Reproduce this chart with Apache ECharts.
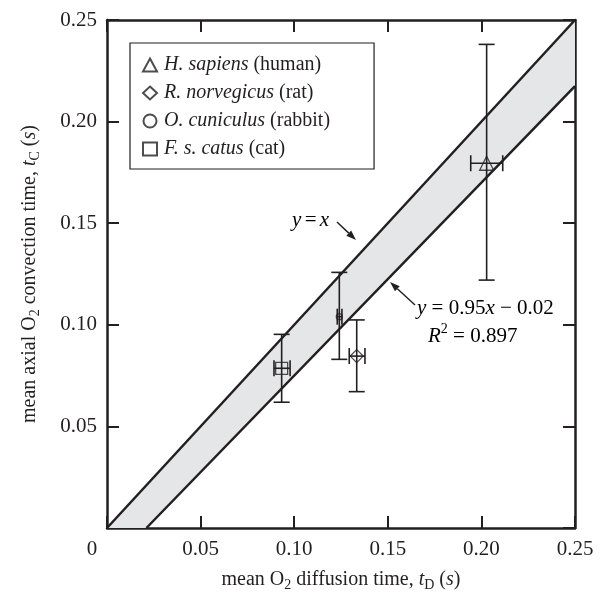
<!DOCTYPE html>
<html>
<head>
<meta charset="utf-8">
<script src="https://cdn.jsdelivr.net/npm/echarts@6/dist/echarts.min.js"></script>
<style>
  html, body { margin: 0; padding: 0; background: #fff; }
  #chart { width: 613px; height: 592px; }
</style>
</head>
<body>
<div id="chart"></div>
<script>
// species, one entry per animal
const speciesNames = ['H. sapiens', 'R. norvegicus', 'O. cuniculus', 'F. s. catus']
const commonNames = ['human', 'rat', 'rabbit', 'cat']
const speciesSymbols = ['triangle', 'diamond', 'circle', 'rect']

// mean diffusion time tD and convection time tC (s)
const tD = [0.2028, 0.1334, 0.1241, 0.0933]
const tC = [0.1795, 0.0846, 0.1040, 0.0786]
// error ranges
const tDLow = [0.1943, 0.1294, 0.1230, 0.0892]
const tDHigh = [0.2114, 0.1378, 0.1255, 0.0978]
const tCLow = [0.1220, 0.0671, 0.0830, 0.0619]
const tCHigh = [0.2380, 0.1024, 0.1258, 0.0953]

// reference lines: y = x and fit y = 0.95x - 0.02
const identityLine = [[0, 0], [0.25, 0.25]]
const fitLine = [[0.02105, 0], [0.25, 0.2175]]

const ink = '#231f20'
const serif = '"Liberation Serif", "DejaVu Serif", serif'

const chart = echarts.init(document.getElementById('chart'))

const band = identityLine.concat(fitLine.slice().reverse())

const errorData = tD.map((x, i) => [x, tC[i], tDLow[i], tDHigh[i], tCLow[i], tCHigh[i]])

const markerSeries = speciesNames.map((sp, i) => ({
	name: sp + ' (' + commonNames[i] + ')',
	type: 'scatter',
	symbol: speciesSymbols[i],
	symbolSize: [14, 13, 6, 12][i],
	data: [[tD[i], tC[i]]],
	itemStyle: { color: 'rgba(255,255,255,0)', borderColor: ink, borderWidth: 1.3 },
	z: 5,
}))

const labelStyle = { fontFamily: serif, fontSize: 21, color: ink }
const frameLine = { onZero: false, lineStyle: { color: ink, width: 2.5 } }
const frameTick = { inside: true, length: 12, lineStyle: { color: ink, width: 2 } }
const titleRich = {
	n: { ...labelStyle, fontSize: 20, lineHeight: 24 },
	i: { ...labelStyle, fontSize: 20, lineHeight: 24, fontStyle: 'italic' },
	s: { ...labelStyle, fontSize: 14, lineHeight: 12, verticalAlign: 'bottom' },
}

const option = {
	animation: false,
	grid: { left: 107, right: 38, top: 20, bottom: 64, outerBoundsMode: 'none' },
	xAxis: [
		{
			type: 'value', min: 0, max: 0.25, interval: 0.05,
			axisLine: frameLine, axisTick: frameTick,
			splitLine: { show: false },
			axisLabel: {
				...labelStyle, margin: 11,
				formatter: v => v === 0 ? '{z|0}' : v.toFixed(2),
				rich: { z: { ...labelStyle, padding: [0, 30, 0, 0] } },
			},
			name: '{n|mean O}{s|2}{n| diffusion time, }{i|t}{s|D}{n| (}{i|s}{n|)}',
			nameLocation: 'middle', nameGap: 40,
			nameTextStyle: { rich: titleRich },
		},
		{
			type: 'value', position: 'top', min: 0, max: 0.25, interval: 0.05,
			axisLine: frameLine, axisTick: frameTick,
			axisLabel: { show: false }, splitLine: { show: false },
		},
	],
	yAxis: [
		{
			type: 'value', min: 0, max: 0.25, interval: 0.05,
			axisLine: frameLine, axisTick: frameTick,
			splitLine: { show: false },
			axisLabel: { ...labelStyle, margin: 10, showMinLabel: false, formatter: v => v.toFixed(2) },
			name: '{n|mean axial O}{s|2}{n| convection time, }{i|t}{s|C}{n| (}{i|s}{n|)}',
			nameLocation: 'middle', nameGap: 65,
			nameTextStyle: { rich: titleRich },
		},
		{
			type: 'value', position: 'right', min: 0, max: 0.25, interval: 0.05,
			axisLine: frameLine, axisTick: frameTick,
			axisLabel: { show: false }, splitLine: { show: false },
		},
	],
	legend: {
		orient: 'vertical', left: 130, top: 43,
		borderColor: ink, borderWidth: 1.2,
		padding: [11, 44, 9, 12],
		itemWidth: 14, itemHeight: 13, itemGap: 6,
		data: markerSeries.map(s => s.name),
		formatter: name => {
			const i = markerSeries.findIndex(s => s.name === name)
			return '{i|' + speciesNames[i] + '} (' + commonNames[i] + ')'
		},
		textStyle: {
			...labelStyle, fontSize: 20, lineHeight: 22, padding: [0, 0, 0, 2],
			rich: { i: { ...labelStyle, fontSize: 20, lineHeight: 22, fontStyle: 'italic' } },
		},
	},
	series: [
		{
			type: 'custom',
			silent: true,
			data: [band],
			z: 1,
			renderItem: (params, api) => ({
				type: 'polygon',
				shape: { points: band.map(p => api.coord(p)) },
				style: { fill: '#e5e6e8' },
			}),
		},
		{
			type: 'line', data: identityLine, symbol: 'none', z: 2,
			lineStyle: { color: ink, width: 2.5 },
		},
		{
			type: 'line', data: fitLine, symbol: 'none', z: 2,
			lineStyle: { color: ink, width: 2.5 },
		},
		{
			type: 'custom',
			data: errorData,
			z: 4,
			renderItem: (params, api) => {
				const c = api.coord([api.value(0), api.value(1)])
				const xl = api.coord([api.value(2), api.value(1)])
				const xh = api.coord([api.value(3), api.value(1)])
				const yl = api.coord([api.value(0), api.value(4)])
				const yh = api.coord([api.value(0), api.value(5)])
				const cap = 8
				const st = { stroke: ink, lineWidth: 1.6 }
				const ln = (x1, y1, x2, y2) => ({ type: 'line', shape: { x1, y1, x2, y2 }, style: st })
				return {
					type: 'group',
					children: [
						ln(c[0], yl[1], c[0], yh[1]),
						ln(c[0] - cap, yl[1], c[0] + cap, yl[1]),
						ln(c[0] - cap, yh[1], c[0] + cap, yh[1]),
						ln(xl[0], c[1], xh[0], c[1]),
						ln(xl[0], c[1] - cap, xl[0], c[1] + cap),
						ln(xh[0], c[1] - cap, xh[0], c[1] + cap),
					],
				}
			},
		},
		...markerSeries,
	],
}
chart.setOption(option)

// annotations: text plus arrow pointing to each line
const arrow = (x1, y1, x2, y2) => {
	const a = Math.atan2(y2 - y1, x2 - x1)
	const L = 10, W = 3.5
	const bx = x2 - L * Math.cos(a), by = y2 - L * Math.sin(a)
	return [
		{ type: 'line', shape: { x1, y1, x2: bx, y2: by }, style: { stroke: ink, lineWidth: 1.4 }, z: 10 },
		{
			type: 'polygon', z: 10,
			shape: { points: [[x2, y2], [bx + W * Math.sin(a), by - W * Math.cos(a)], [bx - W * Math.sin(a), by + W * Math.cos(a)]] },
			style: { fill: ink },
		},
	]
}
const annRich = {
	n: { ...labelStyle, fontSize: 21 },
	i: { ...labelStyle, fontSize: 21, fontStyle: 'italic' },
	p: { ...labelStyle, fontSize: 14, verticalAlign: 'top', lineHeight: 28 },
}
chart.setOption({
	graphic: [
		{ type: 'text', x: 292, y: 220, style: { text: '{i|y} {n|=} {i|x}', rich: annRich, verticalAlign: 'middle' }, z: 10 },
		...arrow(337, 222, 356, 240),
		{ type: 'text', x: 417, y: 308, style: { text: '{i|y}{n| = 0.95}{i|x}{n| \u2212 0.02}', rich: annRich, verticalAlign: 'middle' }, z: 10 },
		{ type: 'text', x: 428, y: 336, style: { text: '{i|R}{p|2}{n| = 0.897}', rich: annRich, verticalAlign: 'middle' }, z: 10 },
		...arrow(415, 305, 390, 282),
	],
})
</script>
</body>
</html>
